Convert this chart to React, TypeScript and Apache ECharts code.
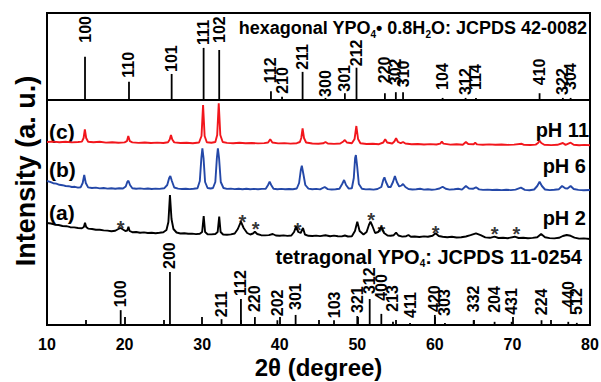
import React, { useEffect, useRef } from "react";
import * as echarts from "echarts";

const FONT = '"Liberation Sans", Arial, Helvetica, sans-serif';

// x range (2θ, degree)
const X_MIN = 10;
const X_MAX = 80;
const X_TICK = 10;

// hexagonal YPO4·0.8H2O, JCPDS 42-0082 (2θ, relative intensity %)
const HEX_POS = [14.9, 20.57, 26.07, 30.19, 32.2, 38.87, 40.3, 42.95, 45.9, 48.4, 49.9, 53.56, 54.97, 55.9, 61.0, 63.96, 65.3, 73.5, 76.5, 77.5];
const HEX_INT = [83, 35, 50, 100, 96, 17, 6, 54, 4, 13, 62, 13, 15, 15, 4, 4, 4, 13, 4, 4];
const HEX_HKL = ["100", "110", "101", "111", "102", "112", "210", "211", "300", "301", "212", "220", "302", "310", "104", "312", "114", "410", "322", "304"];

// tetragonal YPO4, JCPDS 11-0254
const TET_POS = [19.5, 25.85, 32.5, 35.0, 36.8, 39.7, 42.05, 47.0, 50.0, 51.6, 53.1, 54.6, 56.8, 60.0, 61.3, 65.0, 67.7, 69.9, 73.75, 77.2, 78.3];
const TET_INT = [28, 100, 11, 49, 15, 9, 19, 9, 17, 49, 21, 6, 4, 19, 4, 9, 6, 6, 9, 6, 4];
const TET_HKL = ["100", "200", "211", "112", "220", "202", "301", "103", "321", "312", "400", "213", "411", "420", "303", "332", "204", "431", "224", "440", "512"];

// label lift above each stick (layout only, px)
const HEX_GAP = [14, 4, 2, 3, 7, 8, 3, 2, 1, 1.5, 1.5, 10, 7, 5, 8, 3, 8, 8, 3, 8];
const TET_GAP = [3, 3, 2, 3, 5, 4, 5, 2, 3, 5, 13, 10, 5, 3, 7, 8, 9, 7, 5, 14, 8];

// stacking offsets (a.u.)
const OFFSET_C = 183;
const OFFSET_B = 137;
const OFFSET_A = 88;

// (c) pH 11
const CURVE_C: [number, number][] = [
  [10, 0], [10.8, 0.4], [11.6, -0.3], [12.4, 0.2], [13.2, -0.4], [14, 0], [14.5, 0.4], [14.72, 4], [14.88, 12.7], [15.05, 4], [15.3, 0.3],
  [16, -0.3], [16.8, 0.2], [17.6, -0.6], [18.4, -0.2], [19.2, -0.7], [20, -0.4], [20.3, 0.8], [20.48, 6], [20.68, 0.8], [21, -0.4],
  [21.8, -0.9], [22.6, -0.5], [23.4, -1], [24.2, -0.6], [25, -1], [25.6, -0.2], [25.82, 2.5], [25.98, 7], [26.15, 2.5], [26.4, -0.4],
  [27.2, -1], [28, -0.7], [28.8, -1.2], [29.6, -0.5], [29.92, 6], [30.12, 37], [30.32, 6], [30.6, -0.2], [31.2, -0.8], [31.7, 0],
  [31.94, 7], [32.14, 38.7], [32.34, 7], [32.65, 0], [33.2, -0.9], [34, -1.2], [34.8, -0.8], [35.6, -1.3], [36.4, -1], [37.2, -1.4],
  [38, -1.1], [38.5, -0.5], [38.78, 2.7], [39.05, -0.5], [39.8, -1.4], [40.6, -1.1], [41.4, -1.6], [42.2, -1.2], [42.6, 0], [42.78, 4],
  [42.95, 13.7], [43.13, 4], [43.4, -0.5], [44.2, -1.5], [45, -1.7], [45.6, -1.3], [45.9, 0], [46.2, -1.5], [47, -1.9], [47.8, -1.5],
  [48.2, 0.5], [48.4, 2], [48.65, -0.5], [49.3, -1.2], [49.65, 3], [49.88, 16], [50.1, 3], [50.4, -1.2], [51.2, -2], [52, -1.7],
  [52.8, -2.2], [53.35, -0.5], [53.6, 2.7], [53.85, -0.5], [54.5, -1.5], [54.78, 0.5], [55, 3.7], [55.25, 0], [55.6, -1.2], [55.9, 0],
  [56.2, -1.5], [57, -2.3], [57.8, -2], [58.6, -2.5], [59.4, -2.1], [60.2, -2.5], [60.7, -1.6], [60.9, 0.3], [61.1, -1.6], [62, -2.6],
  [62.8, -2.3], [63.6, -2.7], [64, 0], [64.3, -2], [65, -2.2], [65.2, -0.8], [65.45, -2.4], [66.2, -2.7], [67, -2.4], [67.8, -2.8],
  [68.6, -2.5], [69.4, -2.9], [70.2, -2.6], [71.2, -1.8], [71.5, -2.9], [72.3, -3], [73, -2.6], [73.3, -1], [73.5, 1.3], [73.72, -1],
  [74.1, -2.8], [75, -3.1], [75.8, -2.8], [76.5, -1], [76.85, -2.9], [77.5, -0.7], [77.9, -2.8], [78.6, -3.2], [79.3, -2.9], [80, -3.2],
];

// (b) pH 6
const CURVE_B: [number, number][] = [
  [10, 7], [10.4, 6.2], [10.8, 4.8], [11.2, 4.4], [11.6, 3.2], [12, 2.8], [12.4, 2], [12.8, 1.8], [13.2, 1], [13.6, 1.2], [14, 0.4],
  [14.35, 0.8], [14.6, 5], [14.8, 13], [15.0, 5], [15.3, 0.6], [15.8, 0], [16.3, 0.4], [16.8, -0.4], [17.3, 0], [17.8, -0.6],
  [18.3, -0.2], [18.8, -0.7], [19.3, -0.3], [19.8, -0.5], [20.15, 1.5], [20.35, 6], [20.5, 7.3], [20.7, 3], [21, -0.2], [21.5, -0.8],
  [22, -0.4], [22.5, -0.9], [23, -0.5], [23.5, -1], [24, -0.6], [24.5, -0.9], [25.1, -0.3], [25.5, 3], [25.75, 10], [25.9, 12],
  [26.1, 7], [26.4, 0.5], [26.9, -0.6], [27.4, -1], [27.9, -0.7], [28.4, -1.1], [28.9, -0.8], [29.4, -0.3], [29.7, 7], [29.9, 30],
  [30.03, 39.7], [30.18, 30], [30.38, 6], [30.7, 0], [31.1, -0.5], [31.4, 0], [31.7, 6], [31.9, 30], [32.03, 39.7], [32.18, 30],
  [32.4, 6], [32.75, 0], [33.2, -0.9], [33.7, -0.6], [34.2, -1.1], [34.7, -0.7], [35.2, -1.2], [35.7, -0.8], [36.2, -1.2], [36.7, -0.9],
  [37.2, -1.3], [37.7, -0.9], [38.2, -0.8], [38.5, 3], [38.7, 6.3], [38.9, 3], [39.2, -0.8], [39.7, -1.2], [40.2, -0.9], [40.7, -1.3],
  [41.2, -1], [41.7, -1.2], [42.2, -0.5], [42.5, 5], [42.72, 18], [42.85, 22.3], [43.05, 14], [43.3, 3], [43.7, -0.6], [44.2, -1.2],
  [44.7, -0.9], [45.2, -1.4], [45.8, 1], [46.2, -1.1], [46.7, -1.5], [47.2, -1.2], [47.7, -0.8], [48.05, 4], [48.3, 8], [48.55, 3],
  [48.9, -0.6], [49.3, -0.3], [49.55, 10], [49.72, 30], [49.82, 33], [49.98, 22], [50.2, 4], [50.6, -0.8], [51.1, -1.4], [51.6, -1.2],
  [52.1, -1.6], [52.6, -1], [53.1, 1], [53.35, 8], [53.5, 10.7], [53.7, 6], [54.0, 1], [54.3, 1], [54.6, 6], [54.85, 12], [55.1, 6],
  [55.4, 1.5], [55.7, 2.5], [55.9, 4], [56.2, 1], [56.6, -1], [57.1, -1.5], [57.6, -1.2], [58.1, -0.8], [58.6, -1.6], [59.1, -1.3],
  [59.6, -1.8], [60.1, -1.4], [60.6, -0.5], [61.0, 1.3], [61.4, -0.8], [61.9, -1.6], [62.5, -1.2], [63, -0.8], [63.5, -1.6], [64, 2],
  [64.4, -0.5], [64.9, -0.8], [65.3, 0.7], [65.7, -1.4], [66.2, -1.9], [66.8, -1.6], [67.4, -2], [68, -1.7], [68.6, -2.1], [69.2, -1.7],
  [69.8, -2.1], [70.4, -1.6], [71.1, 0.3], [71.6, -1.9], [72.2, -2.2], [72.8, -1.5], [73.2, 2], [73.5, 6.3], [73.8, 2], [74.2, -1.5],
  [74.8, -2.1], [75.4, -1.8], [76, -1.2], [76.4, 2], [76.8, -0.3], [77.1, -0.5], [77.5, 2], [77.9, -1], [78.5, -1.9], [79.2, -2.2], [80, -2],
];

// (a) pH 2
const CURVE_A: [number, number][] = [
  [10, 14], [10.5, 13.5], [11, 12.3], [11.5, 12], [12, 11], [12.5, 10.8], [13, 9.8], [13.5, 9.6], [14, 9], [14.5, 8.8], [14.75, 10],
  [14.9, 14.3], [15.05, 10], [15.3, 8.4], [15.8, 8], [16.3, 7.2], [16.8, 7.3], [17.3, 6.6], [17.8, 6.4], [18.3, 5.8], [18.8, 6.2],
  [19.2, 8], [19.5, 9], [19.8, 7.5], [20.1, 6], [20.35, 6.5], [20.5, 10.3], [20.65, 6], [21, 4.8], [21.5, 5], [22, 4.3], [22.5, 4.6],
  [23, 4], [23.5, 4.3], [24, 3.8], [24.5, 4.2], [25, 4.8], [25.4, 7], [25.65, 15], [25.85, 42], [26.05, 18], [26.3, 8], [26.7, 4.5],
  [27.2, 3.5], [27.7, 3.8], [28.2, 3.2], [28.7, 3.4], [29.2, 2.9], [29.7, 3.2], [30.0, 5], [30.2, 21], [30.38, 5], [30.7, 2.8],
  [31.2, 2.6], [31.7, 3], [32.0, 5], [32.2, 20.3], [32.38, 5], [32.7, 2.5], [33.2, 2.2], [33.7, 2.6], [34.2, 3.5], [34.6, 8],
  [35.0, 15.3], [35.35, 9], [35.8, 4], [36.2, 2.5], [36.55, 3.5], [36.8, 5.3], [37.1, 3], [37.6, 1.8], [38.1, 1.6], [38.6, 1.9],
  [39.1, 3], [39.5, 1.5], [40, 1.3], [40.5, 1.6], [41, 1.1], [41.5, 1.5], [41.85, 5], [42.1, 10.3], [42.4, 5], [42.7, 4], [43.0, 9],
  [43.25, 2.5], [43.7, 1.2], [44.2, 1], [44.7, 1.4], [45.2, 0.9], [45.9, 1.8], [46.5, 0.8], [47, 1.4], [47.5, 0.7], [48, 0.6],
  [48.4, 1.5], [48.8, 0.5], [49.3, 0.8], [49.7, 6], [50.0, 15.3], [50.3, 6], [50.8, 2.5], [51.2, 5], [51.5, 12], [51.7, 15.3],
  [51.95, 11], [52.3, 4], [52.7, 5], [53.1, 10.3], [53.45, 4], [53.9, 1.5], [54.3, 1.2], [54.7, 1.8], [55.0, 4.3], [55.3, 1.5],
  [55.8, 0.4], [56.3, 0.8], [56.6, 2], [56.9, 0.3], [57.4, 0.5], [58, 0], [58.6, 0.6], [59.1, 0.2], [59.7, 1.2], [60.1, 3.7], [60.5, 1],
  [61, 0.2], [61.6, -0.3], [62.2, 0.2], [62.8, -0.5], [63.4, -0.3], [64, 0.5], [64.6, 1.8], [65.3, 3.7], [65.9, 1.8], [66.5, -0.4],
  [67.1, -0.8], [67.7, 0.3], [68.2, -1], [68.8, -0.7], [69.4, -1.2], [70.3, 0.3], [70.8, -1], [71.4, -0.8], [72, -1.2], [72.6, -0.9],
  [73.2, -0.3], [73.7, 3], [74.2, -0.2], [74.8, -1.1], [75.4, -1.4], [76, -0.8], [76.5, 1], [77, 2], [77.5, 1.2], [78, -0.6],
  [78.6, -1.6], [79.2, -1.4], [80, -2],
];

// asterisk-marked tetragonal peaks in (a): [2θ, mark height above (a) offset]
const STAR_PEAKS: [number, number][] = [
  [19.5, 13.7], [35.2, 20.3], [36.9, 13], [42.3, 12], [51.8, 22], [53.1, 10.3], [60.1, 9.2], [67.7, 8.3], [70.5, 8.3],
];

function stickRenderer(labels: string[], gaps: number[]) {
  return (params: any, api: any) => {
    const x = api.value(0);
    const h = api.value(1);
    const p0 = api.coord([x, 0]);
    const p1 = api.coord([x, h]);
    return {
      type: "group",
      children: [
        {
          type: "line",
          shape: { x1: p0[0], y1: p0[1], x2: p1[0], y2: p1[1] },
          style: { stroke: "#000", lineWidth: 1.8 },
        },
        {
          type: "text",
          x: p1[0],
          y: p1[1] - gaps[params.dataIndex],
          rotation: Math.PI / 2,
          style: {
            text: labels[params.dataIndex],
            fontSize: 16,
            fontWeight: "bold",
            fontFamily: FONT,
            fill: "#000",
            align: "left",
            verticalAlign: "middle",
          },
        },
      ],
    };
  };
}

const titleRich = (size: number) => ({
  m: { fontSize: size, fontWeight: "bold", fontFamily: FONT, fill: "#000", lineHeight: 20 },
  s: { fontSize: 10, fontWeight: "bold", fontFamily: FONT, fill: "#000", verticalAlign: "top", padding: [12, 0, 0, 0] },
});

const textStyle = (text: string, size: number, align: string) => ({
  text,
  fontSize: size,
  fontWeight: "bold",
  fontFamily: FONT,
  fill: "#000",
  align,
  verticalAlign: "middle",
});

export default function App() {
  const ref = useRef<HTMLDivElement>(null);

  useEffect(() => {
    if (!ref.current) return;
    const chart = echarts.init(ref.current, undefined, { renderer: "svg" });

    const line = (name: string, data: [number, number][], offset: number, color: string) => ({
      name,
      type: "line",
      xAxisIndex: 1,
      yAxisIndex: 1,
      data: data.map(([x, v]) => [x, v + offset]),
      symbol: "none",
      silent: true,
      lineStyle: { color, width: 1.9 },
      z: 3,
    });

    const option: any = {
      animation: false,
      backgroundColor: "#fff",
      grid: [
        {
          left: 47, right: 11, top: 13, height: 87, show: true, borderColor: "#000", borderWidth: 2,
          backgroundColor: "transparent", containLabel: false, outerBoundsMode: "none",
        },
        {
          left: 47, right: 11, top: 100, height: 225, show: true, borderColor: "#000", borderWidth: 2,
          backgroundColor: "transparent", containLabel: false, outerBoundsMode: "none",
        },
      ],
      xAxis: [
        { gridIndex: 0, type: "value", min: X_MIN, max: X_MAX, show: false },
        {
          gridIndex: 1,
          type: "value",
          min: X_MIN,
          max: X_MAX,
          interval: X_TICK,
          axisLine: { show: true, lineStyle: { color: "#000", width: 2 } },
          axisTick: { show: true, inside: true, length: 8, lineStyle: { color: "#000", width: 1.8 } },
          minorTick: { show: true, splitNumber: 2, length: 5, lineStyle: { color: "#000", width: 1.8 } },
          splitLine: { show: false },
          axisLabel: { color: "#000", fontSize: 16, fontWeight: "bold", fontFamily: FONT, margin: 11 },
          name: "2θ (degree)",
          nameLocation: "middle",
          nameGap: 30,
          nameMoveOverlap: false,
          nameTextStyle: { color: "#000", fontSize: 24, fontWeight: "bold", fontFamily: FONT },
        },
      ],
      yAxis: [
        { gridIndex: 0, type: "value", min: 0, max: 167, show: false },
        { gridIndex: 1, type: "value", min: 0, max: 225, show: false },
        { gridIndex: 1, type: "value", min: 0, max: 424.5, show: false },
      ],
      series: [
        {
          name: "hexagonal",
          type: "custom",
          xAxisIndex: 0,
          yAxisIndex: 0,
          silent: true,
          data: HEX_POS.map((p, i) => [p, HEX_INT[i]]),
          renderItem: stickRenderer(HEX_HKL, HEX_GAP),
        },
        {
          name: "tetragonal",
          type: "custom",
          xAxisIndex: 1,
          yAxisIndex: 2,
          silent: true,
          data: TET_POS.map((p, i) => [p, TET_INT[i]]),
          renderItem: stickRenderer(TET_HKL, TET_GAP),
        },
        line("(a) pH 2", CURVE_A, OFFSET_A, "#000000"),
        line("(b) pH 6", CURVE_B, OFFSET_B, "#2448a8"),
        line("(c) pH 11", CURVE_C, OFFSET_C, "#f2161c"),
        {
          name: "stars",
          type: "scatter",
          xAxisIndex: 1,
          yAxisIndex: 1,
          silent: true,
          symbolSize: 0,
          data: STAR_PEAKS.map(([x, h]) => [x, h + OFFSET_A]),
          label: {
            show: true,
            position: "inside",
            formatter: "*",
            color: "#000",
            fontSize: 20,
            fontWeight: "bold",
            fontFamily: FONT,
            lineHeight: 10,
            offset: [0, 5],
          },
          z: 4,
        },
      ],
      graphic: [
        {
          type: "text",
          x: 26,
          y: 171,
          rotation: Math.PI / 2,
          style: textStyle("Intensity (a. u.)", 27, "center"),
        },
        {
          type: "text",
          x: 587,
          y: 28,
          style: {
            text: "{m|hexagonal YPO}{s|4}{m|• 0.8H}{s|2}{m|O: JCPDS 42-0082}",
            rich: titleRich(18),
            align: "right",
            verticalAlign: "middle",
          },
        },
        {
          type: "text",
          x: 582,
          y: 257,
          style: {
            text: "{m|tetragonal YPO}{s|4}{m|: JCPDS 11-0254}",
            rich: titleRich(20),
            align: "right",
            verticalAlign: "middle",
          },
        },
        { type: "text", x: 49, y: 131, style: textStyle("(c)", 21, "left") },
        { type: "text", x: 49, y: 169, style: textStyle("(b)", 21, "left") },
        { type: "text", x: 49, y: 212, style: textStyle("(a)", 21, "left") },
        { type: "text", x: 589, y: 130, style: textStyle("pH 11", 20, "right") },
        { type: "text", x: 586, y: 166, style: textStyle("pH 6", 20, "right") },
        { type: "text", x: 586, y: 218, style: textStyle("pH 2", 20, "right") },
      ],
    };

    chart.setOption(option);
    return () => chart.dispose();
  }, []);

  return (
    <div
      ref={ref}
      style={{ position: "fixed", left: 0, top: 0, width: 601, height: 382, background: "#fff" }}
    />
  );
}
